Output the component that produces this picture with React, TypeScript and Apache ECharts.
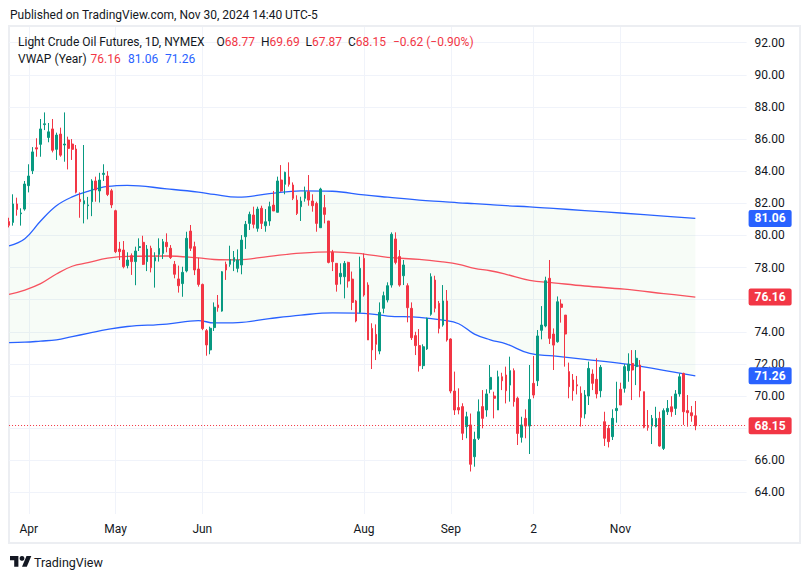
import React, { useEffect, useRef } from 'react';
import * as echarts from 'echarts';

// ---------- trading days (2024) ----------
const marDays = [22, 25, 26, 27, 28];
const aprDays = [1, 2, 3, 4, 5, 8, 9, 10, 11, 12, 15, 16, 17, 18, 19, 22, 23, 24, 25, 26, 29, 30];
const mayDays = [1, 2, 3, 6, 7, 8, 9, 10, 13, 14, 15, 16, 17, 20, 21, 22, 23, 24, 28, 29, 30, 31];
const junDays = [3, 4, 5, 6, 7, 10, 11, 12, 13, 14, 17, 18, 20, 21, 24, 25, 26, 27, 28];
const julDays = [1, 2, 3, 5, 8, 9, 10, 11, 12, 15, 16, 17, 18, 19, 22, 23, 24, 25, 26, 29, 30, 31];
const augDays = [1, 2, 5, 6, 7, 8, 9, 12, 13, 14, 15, 16, 19, 20, 21, 22, 23, 26, 27, 28, 29, 30];
const sepDays = [3, 4, 5, 6, 9, 10, 11, 12, 13, 16, 17, 18, 19, 20, 23, 24, 25, 26, 27, 30];
const octDays = [1, 2, 3, 4, 7, 8, 9, 10, 11, 14, 15, 16, 17, 18, 21, 22, 23, 24, 25, 28, 29, 30, 31];
const novDays = [1, 4, 5, 6, 7, 8, 11, 12, 13, 14, 15, 18, 19, 20, 21, 22, 25, 26, 27, 29];

// ---------- OHLC ----------
const opens = [
  80.86, 80.81, 81.96, 81.35, 81.64, 83.1, 84.03, 85.46, 85.67, 86.9, 86.1, 86.63, 85.36, 86.31, 85.63, 85.94, 85.69, 85.38, 82.25, 81.96,
  81.85, 82.1, 83.39, 82.77, 83.8, 83.7, 82.78, 81.54, 79.15, 79.09, 78.12, 78.74, 78.37, 79.25, 79.57, 78.37, 79.2, 78.41, 78.82, 78.88,
  79.57, 79.2, 78.2, 77.29, 77.0, 77.79, 80.27, 79.3, 77.91, 76.95, 74.07, 72.87, 74.26, 75.67, 75.29, 78.2, 78.2, 78.37, 77.95, 78.16,
  79.92, 80.75, 81.27, 80.44, 81.69, 80.6, 80.9, 81.89, 81.44, 83.45, 83.18, 83.64, 83.14, 82.2, 81.79, 82.31, 82.72, 82.14, 81.99, 80.48,
  81.73, 80.9, 78.95, 78.26, 77.43, 77.43, 78.32, 77.28, 75.92, 75.21, 78.57, 76.91, 74.21, 73.84, 72.8, 75.46, 75.98, 76.91, 79.78, 78.68,
  77.49, 76.87, 75.46, 73.76, 73.14, 71.89, 72.93, 75.09, 77.22, 75.77, 74.42, 75.92, 73.55, 70.31, 69.28, 69.34, 68.09, 68.2, 66.22, 67.37,
  69.34, 69.13, 70.42, 70.0, 69.13, 71.2, 71.31, 70.68, 71.58, 69.86, 67.43, 68.61, 68.13, 70.79, 70.95, 74.09, 74.36, 77.33, 73.86, 73.38,
  75.73, 75.04, 71.52, 71.0, 70.7, 70.17, 68.88, 70.0, 71.37, 71.04, 70.33, 68.4, 67.99, 67.47, 69.09, 70.42, 70.48, 71.58, 72.03, 71.83,
  71.93, 70.27, 68.1, 68.13, 68.09, 68.61, 66.74, 69.02, 69.33, 69.23, 70.13, 71.41, 69.09, 68.96, 68.77,
];
const closes = [
  80.63, 81.96, 81.62, 81.4, 83.2, 83.7, 85.2, 85.38, 86.63, 86.95, 86.45, 85.3, 86.25, 85.0, 85.69, 85.42, 85.36, 82.69, 82.1, 82.16,
  81.9, 83.39, 82.83, 83.45, 83.87, 82.55, 81.9, 78.99, 78.99, 78.05, 78.47, 78.37, 79.03, 79.3, 78.2, 79.15, 77.99, 78.62, 79.19, 79.61,
  79.3, 78.62, 77.58, 76.87, 77.7, 79.82, 79.2, 77.85, 76.95, 74.2, 73.18, 74.22, 75.53, 75.5, 77.74, 77.85, 78.5, 78.62, 78.47, 79.71,
  80.69, 81.31, 80.69, 81.64, 80.75, 80.85, 81.79, 81.52, 83.39, 82.77, 83.93, 83.18, 82.31, 81.37, 82.14, 82.72, 82.2, 81.85, 80.75, 82.89,
  81.31, 78.32, 78.36, 76.95, 77.64, 78.26, 77.16, 75.83, 74.67, 77.95, 76.29, 73.49, 72.87, 73.22, 75.21, 76.25, 76.87, 80.07, 78.32, 76.91,
  78.16, 75.5, 73.63, 73.14, 71.89, 73.07, 74.84, 77.43, 75.46, 74.21, 75.92, 73.49, 70.31, 69.13, 69.13, 67.68, 68.71, 65.75, 67.3, 69.02,
  68.61, 70.13, 71.16, 69.86, 71.2, 70.95, 70.33, 71.58, 69.65, 67.67, 68.2, 68.13, 69.79, 70.06, 73.74, 74.42, 77.18, 73.59, 73.17, 75.87,
  75.52, 73.86, 70.58, 70.33, 70.63, 68.67, 70.06, 71.72, 70.79, 70.13, 71.79, 67.37, 67.16, 68.61, 69.23, 69.44, 71.83, 71.99, 71.62, 72.35,
  70.33, 68.05, 68.05, 68.61, 68.61, 66.89, 69.09, 69.23, 69.02, 70.13, 71.2, 69.02, 68.96, 68.77, 68.15,
];
const lows = [
  80.5, 80.61, 81.23, 80.61, 81.54, 82.68, 83.82, 84.9, 84.9, 86.56, 85.8, 85.17, 84.7, 84.9, 84.59, 84.11, 84.7, 82.62, 81.1, 80.75,
  81.0, 81.2, 82.1, 82.05, 83.39, 82.45, 81.7, 78.9, 78.47, 77.95, 77.95, 77.54, 76.9, 79.03, 78.16, 77.78, 77.7, 76.75, 78.37, 78.53,
  78.95, 78.53, 77.33, 76.44, 76.18, 77.7, 79.03, 77.53, 76.81, 74.1, 72.51, 72.6, 74.05, 75.25, 75.25, 77.23, 78.05, 77.78, 77.7, 77.58,
  79.16, 80.34, 80.44, 80.23, 80.4, 80.23, 80.6, 81.52, 81.44, 82.72, 82.56, 83.04, 82.2, 81.27, 80.9, 82.1, 81.85, 81.48, 80.23, 80.48,
  80.75, 78.26, 77.78, 76.5, 76.95, 76.08, 76.75, 75.35, 74.59, 75.15, 76.19, 73.49, 71.68, 72.24, 72.6, 75.15, 75.83, 76.75, 78.2, 76.81,
  76.91, 74.59, 73.49, 72.55, 71.52, 71.68, 72.87, 75.0, 75.21, 73.9, 74.32, 73.39, 70.17, 68.82, 68.86, 67.26, 67.37, 65.3, 65.6, 67.26,
  67.99, 68.71, 70.17, 68.61, 69.13, 70.37, 69.54, 69.65, 69.34, 66.95, 67.1, 67.37, 66.39, 69.86, 70.62, 73.53, 74.28, 73.24, 71.62, 73.32,
  74.57, 71.83, 69.86, 69.71, 70.1, 68.1, 68.6, 69.44, 70.37, 69.85, 69.92, 66.89, 66.8, 67.26, 68.34, 69.44, 70.21, 70.89, 69.75, 70.68,
  69.92, 67.99, 67.84, 67.01, 68.05, 66.85, 66.64, 68.82, 68.71, 68.82, 69.96, 68.2, 68.09, 68.4, 67.87,
];
const highs = [
  81.1, 82.56, 82.35, 81.69, 83.39, 84.43, 85.5, 86.05, 87.25, 87.66, 87.0, 87.25, 86.4, 86.71, 87.66, 86.15, 86.0, 85.63, 82.68, 85.63,
  82.4, 83.5, 83.66, 83.9, 84.43, 84.0, 82.9, 81.6, 79.6, 79.65, 78.95, 78.88, 79.3, 79.82, 79.98, 79.4, 79.36, 78.95, 79.82, 79.78,
  80.13, 79.4, 78.41, 78.12, 78.05, 80.23, 80.65, 79.61, 78.61, 77.0, 74.17, 74.32, 75.83, 76.29, 77.78, 78.37, 79.36, 79.03, 79.13, 80.02,
  80.9, 81.48, 81.79, 81.79, 81.85, 81.64, 82.1, 82.77, 83.66, 84.38, 83.97, 84.55, 83.3, 82.5, 82.41, 83.04, 83.76, 82.56, 82.1, 82.97,
  82.52, 80.9, 79.1, 78.26, 78.26, 78.41, 78.36, 77.75, 75.98, 78.68, 78.88, 77.08, 74.53, 74.46, 75.83, 76.5, 77.08, 80.19, 80.19, 79.09,
  78.47, 77.02, 75.83, 74.0, 74.17, 73.22, 74.88, 77.64, 77.49, 75.92, 76.91, 76.6, 73.59, 71.52, 70.48, 69.55, 69.02, 68.91, 67.78, 69.79,
  70.37, 70.42, 71.93, 70.27, 71.58, 71.45, 71.83, 72.45, 71.72, 69.96, 68.71, 69.17, 71.93, 72.49, 74.11, 75.6, 77.43, 78.47, 74.21, 76.2,
  76.02, 75.04, 72.08, 71.37, 71.25, 70.6, 70.37, 72.14, 71.66, 72.35, 71.93, 69.02, 68.2, 69.17, 70.89, 70.83, 71.99, 72.66, 72.86, 72.86,
  72.24, 70.27, 69.13, 68.82, 69.33, 69.02, 69.23, 69.75, 69.99, 70.37, 71.41, 71.45, 70.06, 69.38, 69.69,
];

// ---------- VWAP (Year) readings at sampled candles ----------
const vwapAt = [0, 4, 8, 12, 16, 20, 25, 30, 40, 48, 52, 58, 66, 74, 82, 90, 96, 104, 110, 114, 118, 122, 126, 132, 138, 146, 156, 166, 174];
const vwapUpper = [79.35, 79.8, 80.9, 81.85, 82.4, 82.75, 83.05, 83.12, 82.9, 82.7, 82.55, 82.38, 82.6, 82.78, 82.75, 82.52, 82.38, 82.2, 82.1, 82.03, 81.98, 81.92, 81.85, 81.78, 81.68, 81.55, 81.38, 81.2, 81.06];
const vwapMid = [76.33, 76.6, 77.0, 77.6, 78.08, 78.3, 78.58, 78.7, 78.72, 78.6, 78.5, 78.48, 78.7, 78.9, 78.98, 78.84, 78.63, 78.51, 78.35, 78.2, 77.95, 77.8, 77.58, 77.2, 77.05, 76.85, 76.65, 76.38, 76.16];
const vwapLower = [73.33, 73.35, 73.42, 73.5, 73.7, 73.9, 74.15, 74.33, 74.48, 74.7, 74.55, 74.57, 74.82, 75.04, 75.18, 75.15, 74.98, 74.9, 74.73, 74.5, 73.85, 73.5, 73.25, 72.65, 72.5, 72.28, 72.0, 71.6, 71.26];

// ---------- axis ticks ----------
const yGridTicks = [64, 66, 68, 70, 72, 74, 76, 78, 80, 82, 84, 86, 88, 90, 92];
// 76.00 and 68.00 sit fully under the price tags in the reference, so they are not printed
const yLabelTicks = [64, 66, 70, 72, 74, 78, 80, 82, 84, 86, 88, 90, 92];
const xTickDates = ['2024-04-01', '2024-05-01', '2024-06-03', '2024-08-01', '2024-09-03', '2024-10-02', '2024-11-01'];
const xTickLabels = ['Apr', 'May', 'Jun', 'Aug', 'Sep', '2', 'Nov'];
const padBars = 13;

const GREEN = '#089981';
const RED = '#f23645';
const BLUE = '#2962ff';
const TEXT = '#131722';
const FONT = 'Roboto, "Noto Sans", sans-serif';

function buildDates(): string[] {
  const months: [string, number[]][] = [
    ['03', marDays], ['04', aprDays], ['05', mayDays], ['06', junDays], ['07', julDays],
    ['08', augDays], ['09', sepDays], ['10', octDays], ['11', novDays],
  ];
  const out: string[] = [];
  months.forEach(([m, ds]) => ds.forEach((d) => out.push(`2024-${m}-${String(d).padStart(2, '0')}`)));
  return out;
}

export default function App() {
  const ref = useRef<HTMLDivElement>(null);

  useEffect(() => {
    document.body.style.margin = '0';
    if (!ref.current) return;
    const chart = echarts.init(ref.current, undefined, { renderer: 'svg' });

    const dates = buildDates();
    const categories = [...dates];
    for (let i = 0; i < padBars; i++) categories.push('pad' + i);
    const tickIdx = xTickDates.map((d) => dates.indexOf(d));
    const labelAt: Record<number, string> = {};
    tickIdx.forEach((ix, k) => (labelAt[ix] = xTickLabels[k]));

    const candles = dates.map((_, i) => [opens[i], closes[i], lows[i], highs[i]]);
    const n = dates.length;
    const last = n - 1;
    const lastClose = closes[last];
    const chg = lastClose - closes[last - 1];
    const pct = (chg / closes[last - 1]) * 100;
    const fmtSigned = (v: number) => (v < 0 ? '\u2212' : '+') + Math.abs(v).toFixed(2);

    const upLast = vwapUpper[vwapUpper.length - 1];
    const midLast = vwapMid[vwapMid.length - 1];
    const lowLast = vwapLower[vwapLower.length - 1];

    const tag = (bg: string) => ({
      show: true,
      position: 'end',
      distance: 2,
      formatter: (p: any) => Number(p.value).toFixed(2),
      backgroundColor: bg,
      color: '#ffffff',
      fontWeight: 'bold',
      fontSize: 12,
      fontFamily: FONT,
      padding: [3, 6, 2, 6],
      borderRadius: 2,
    });

    const txt = (x: number, y: number, text: string, fill: string, size = 12) => ({
      type: 'text',
      x,
      y,
      silent: true,
      z: 100,
      style: { text, fill, font: `${size}px ${FONT}`, verticalAlign: 'middle' },
    });

    const ohlc = (x: number, key: string, val: number) => ({
      type: 'text', x, y: 42, silent: true, z: 100,
      style: {
        text: '{d|' + key + '}{r|' + val.toFixed(2) + '}',
        verticalAlign: 'middle',
        rich: { d: { fill: TEXT, font: `12px ${FONT}` }, r: { fill: RED, font: `12px ${FONT}` } },
      },
    });

    const option: any = {
      animation: false,
      backgroundColor: '#ffffff',
      grid: { left: 9.06, right: 63.4, top: 27, bottom: 65 },
      xAxis: {
        type: 'category',
        data: categories,
        boundaryGap: false,
        axisLine: { show: false },
        axisTick: { show: false },
        axisLabel: {
          interval: (i: number) => labelAt[i] !== undefined,
          formatter: (_v: string, i: number) => labelAt[i] ?? '',
          color: TEXT,
          fontSize: 12,
          fontFamily: FONT,
          margin: 9,
        },
        splitLine: {
          show: true,
          interval: (i: number) => labelAt[i] !== undefined,
          lineStyle: { color: '#f0f3fa', width: 1 },
        },
      },
      yAxis: {
        type: 'value',
        position: 'right',
        min: 62.654,
        max: 92.978,
        axisLine: { show: false },
        axisTick: { show: false, customValues: yGridTicks },
        axisLabel: {
          customValues: yLabelTicks,
          formatter: (v: number) => v.toFixed(2),
          color: TEXT,
          fontSize: 12,
          fontFamily: FONT,
          margin: 8,
        },
        splitLine: { show: true, lineStyle: { color: '#f0f3fa', width: 1 } },
      },
      series: [
        {
          name: 'lower',
          type: 'line',
          data: vwapAt.map((c, i) => [c, vwapLower[i]]),
          stack: 'band',
          smooth: 0.4,
          symbol: 'none',
          silent: true,
          z: 1,
          lineStyle: { color: BLUE, width: 1.3 },
        },
        {
          name: 'upper',
          type: 'line',
          data: vwapAt.map((c, i) => [c, +(vwapUpper[i] - vwapLower[i]).toFixed(3)]),
          stack: 'band',
          smooth: 0.4,
          symbol: 'none',
          silent: true,
          z: 1,
          lineStyle: { color: BLUE, width: 1.3 },
          areaStyle: { color: 'rgba(76,175,80,0.06)' },
        },
        {
          name: 'vwap',
          type: 'line',
          data: vwapAt.map((c, i) => [c, vwapMid[i]]),
          smooth: 0.4,
          symbol: 'none',
          silent: true,
          clip: false,
          z: 1,
          lineStyle: { color: '#f7525f', width: 1.3 },
          markLine: {
            silent: true,
            symbol: ['none', 'none'],
            animation: false,
            data: [
              { yAxis: upLast, lineStyle: { color: 'transparent', width: 0 }, label: tag(BLUE) },
              { yAxis: midLast, lineStyle: { color: 'transparent', width: 0 }, label: tag(RED) },
              { yAxis: lowLast, lineStyle: { color: 'transparent', width: 0 }, label: tag(BLUE) },
              { yAxis: lastClose, lineStyle: { color: RED, width: 1, type: [1, 2] }, label: tag(RED) },
            ],
          },
        },
        {
          name: 'CL',
          type: 'candlestick',
          data: candles,
          barWidth: 2.2,
          z: 3,
          silent: true,
          itemStyle: {
            color: GREEN,
            color0: RED,
            borderColor: GREEN,
            borderColor0: RED,
            borderWidth: 1,
          },
        },
      ],
      graphic: [
        {
          type: 'rect',
          silent: true,
          z: -10,
          shape: { x: 9, y: 26, width: 791, height: 517 },
          style: { fill: 'none', stroke: '#eceef2', lineWidth: 2 },
        },
        txt(10, 15, 'Published on TradingView.com, Nov 30, 2024 14:40 UTC-5', TEXT),
        txt(18, 42, 'Light Crude Oil Futures, 1D, NYMEX', TEXT),
        ohlc(216.5, 'O', opens[last]),
        ohlc(261, 'H', highs[last]),
        ohlc(305.5, 'L', lows[last]),
        ohlc(348, 'C', lastClose),
        txt(393, 42, `${fmtSigned(chg)} (${fmtSigned(pct)}%)`, RED),
        txt(18, 59, 'VWAP (Year)', TEXT),
        txt(90.5, 59, midLast.toFixed(2), RED),
        txt(128, 59, upLast.toFixed(2), BLUE),
        txt(165, 59, lowLast.toFixed(2), BLUE),
        {
          type: 'polygon', silent: true, z: 100,
          shape: { points: [[10, 556], [18.4, 556], [18.4, 566.8], [14.2, 566.8], [14.2, 560.2], [10, 560.2]] },
          style: { fill: TEXT },
        },
        { type: 'circle', silent: true, z: 100, shape: { cx: 22, cy: 558.4, r: 2.4 }, style: { fill: TEXT } },
        {
          type: 'polygon', silent: true, z: 100,
          shape: { points: [[26.8, 566.8], [22, 566.8], [26.5, 556], [31.3, 556]] },
          style: { fill: TEXT },
        },
        txt(34, 562, 'TradingView', TEXT, 12.5),
      ],
    };

    chart.setOption(option);
    return () => chart.dispose();
  }, []);

  return <div ref={ref} style={{ width: 810, height: 579 }} />;
}
